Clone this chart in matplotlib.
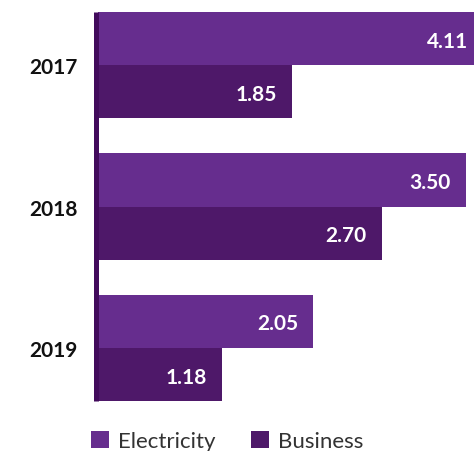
import matplotlib
matplotlib.use("Agg")
import matplotlib.pyplot as plt
import numpy as np
from matplotlib.patches import Patch

years = ["2017", "2018", "2019"]
electricity = [4.11, 3.50, 2.05]
business = [1.85, 2.70, 1.18]
series_names = ["Electricity", "Business"]

c_elec = "#662d8e"
c_bus = "#4e1869"
c_axis = "#420b5c"

plt.rcParams['font.family'] = ['Lato', 'DejaVu Sans']

W, H = 474, 452
fig = plt.figure(figsize=(W / 100, H / 100), dpi=100)

k = 105.0  # px per unit
xmax = 4.5
left_px = 98
top_px, bot_px = 13, 402
ax = fig.add_axes([left_px / W, (H - bot_px) / H, xmax * k / W, (bot_px - top_px) / H])
visible_max = (W - left_px) / k  # data value at the right edge of the picture

bh = 53 / 141
y = np.arange(len(years))
ax.barh(y - bh / 2, electricity, height=bh, color=c_elec, linewidth=0)
ax.barh(y + bh / 2, business, height=bh, color=c_bus, linewidth=0)

ax.set_xlim(0, xmax)
ax.set_ylim(len(years) - 1 + bh, -bh)


def label(v, yy):
    xpos = min(v, visible_max)
    off = -11 if v <= visible_max else -4
    ax.annotate(f"{v:.2f}", (xpos, yy), xytext=(off, -1.5), textcoords="offset points",
                ha="right", va="center", color="white", fontsize=15, fontweight="bold")


for yi, v in zip(y, electricity):
    label(v, yi - bh / 2)
for yi, v in zip(y, business):
    label(v, yi + bh / 2)

for s in ["top", "right", "bottom"]:
    ax.spines[s].set_visible(False)
ax.spines["left"].set_color(c_axis)
ax.spines["left"].set_linewidth(3.6)
ax.spines["left"].set_capstyle("butt")
ax.spines["left"].set_position(("outward", 1.8))
ax.set_xticks([])
ax.set_yticks(y)
ax.set_yticklabels(years, fontsize=15, fontweight="bold", color="#111111")
ax.tick_params(axis="y", length=0, pad=13)

handles = [Patch(facecolor=c_elec, edgecolor="none"), Patch(facecolor=c_bus, edgecolor="none")]
fig.legend(handles, series_names, loc="upper left", bbox_to_anchor=(91 / W, 1 - 432 / H),
           frameon=False, ncol=2, fontsize=16, borderpad=0, borderaxespad=0,
           handlelength=0.81, handleheight=0.81, handletextpad=0.4, columnspacing=1.6,
           labelcolor="#333333")

fig.savefig("out.png", dpi=100)
